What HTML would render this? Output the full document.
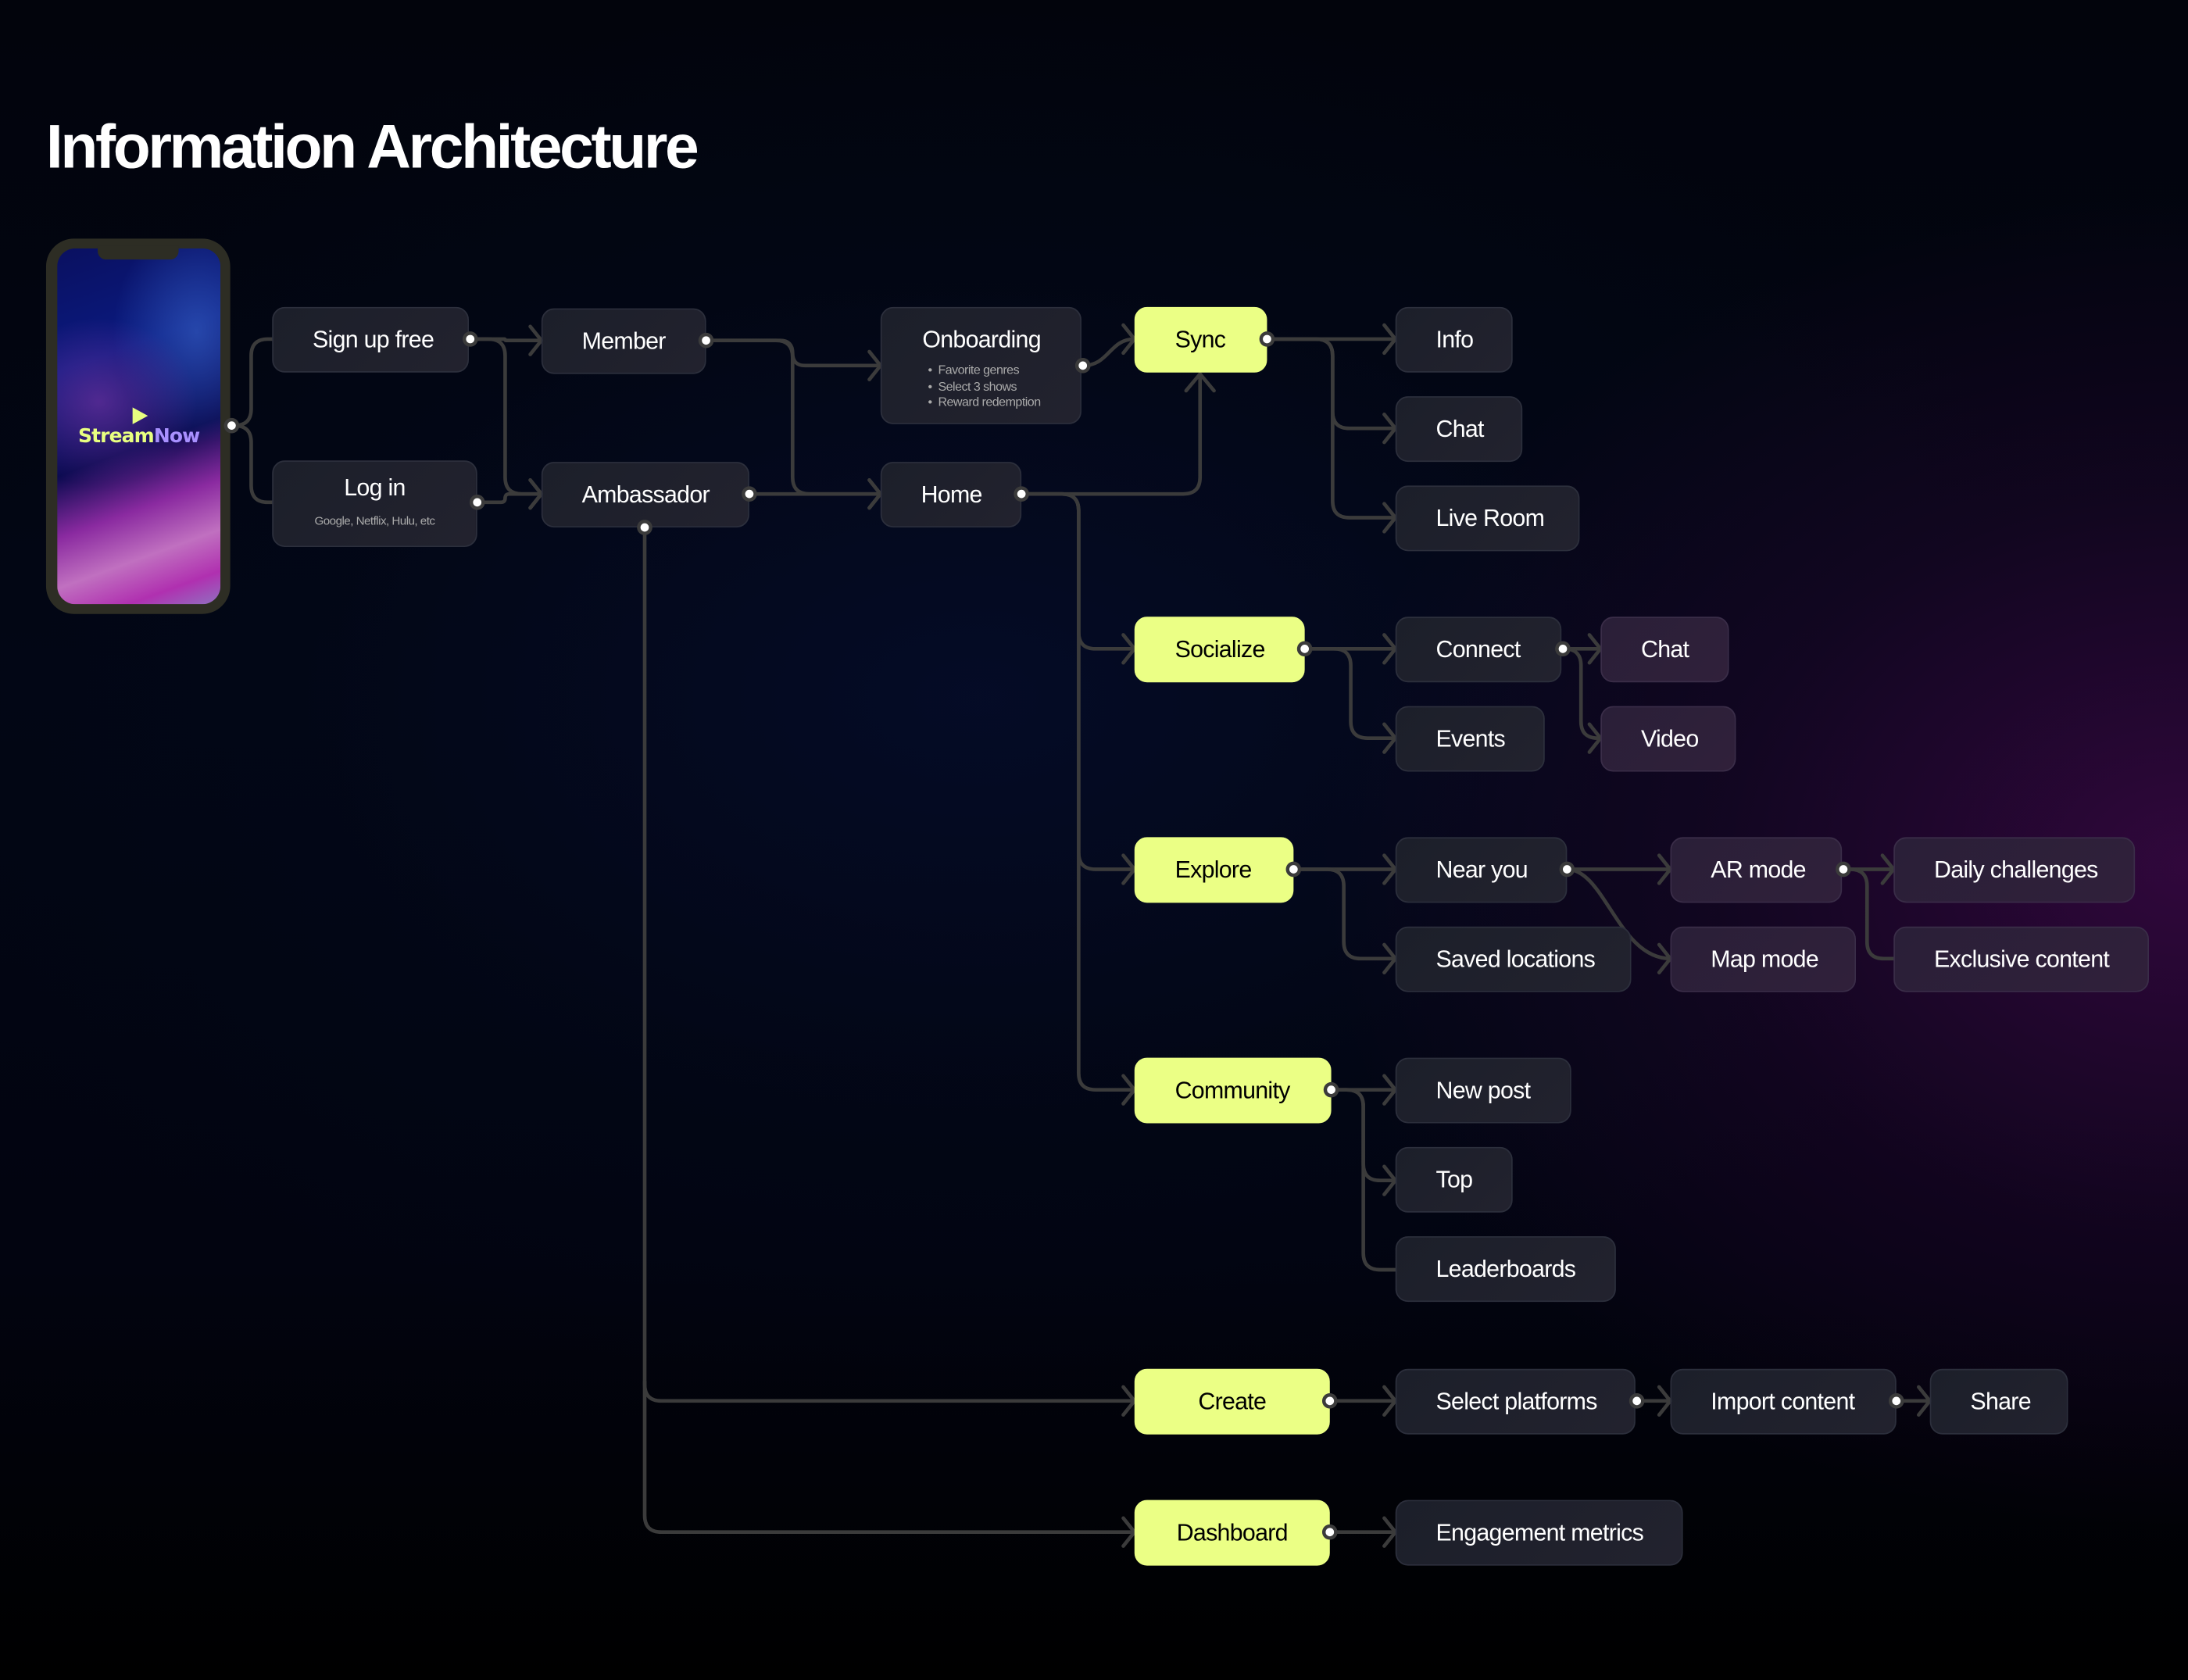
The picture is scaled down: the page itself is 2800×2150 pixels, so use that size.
<!DOCTYPE html>
<html><head><meta charset="utf-8">
<style>
html,body{margin:0;padding:0;background:#000;}
body{width:2800px;height:2150px;overflow:hidden;position:relative;}
#w{position:absolute;left:0;top:0;width:1568px;height:1204px;transform:scale(1.785714);transform-origin:0 0;
background:
radial-gradient(ellipse 620px 480px at 1568px 620px, rgba(60,8,70,0.8), rgba(40,5,50,0.4) 55%, rgba(0,0,0,0) 100%),
radial-gradient(ellipse 800px 500px at 700px 500px, rgba(5,12,40,0.9), rgba(3,8,25,0.5) 60%, rgba(0,0,0,0) 100%),
linear-gradient(180deg,#02040c 0%,#020614 40%,#020410 75%,#000 100%);
font-family:"Liberation Sans",sans-serif;}
h1{position:absolute;left:33px;top:81px;margin:0;font-size:44px;font-weight:bold;color:#fff;letter-spacing:-1.9px;}
.n{position:absolute;box-sizing:border-box;border-radius:9px;background:linear-gradient(135deg,#1c1f2a,#22222e);border:1px solid #2c2f3c;color:#fff;font-size:17px;letter-spacing:-0.4px;display:flex;align-items:center;padding-left:28px;white-space:nowrap;}
.p{background:linear-gradient(135deg,#2a1f38,#30203a);border-color:#3a2d48;}
.y{background:#ebff85;border-color:#ebff85;color:#000;}
.c{justify-content:center;padding-left:0;}
svg{position:absolute;left:0;top:0;}
</style></head><body><div id="w">
<h1>Information Architecture</h1>
<div style="position:absolute;left:33px;top:171px;width:132px;height:269px;border-radius:20px;background:#2d2d24;"></div>
<div style="position:absolute;left:41px;top:178px;width:117px;height:255px;border-radius:13px;overflow:hidden;
background:
radial-gradient(ellipse 70px 60px at 30px 110px, rgba(110,50,160,0.7), rgba(0,0,0,0)),
radial-gradient(ellipse 60px 80px at 100px 60px, rgba(50,90,190,0.7), rgba(0,0,0,0)),
linear-gradient(160deg,#0a1060 0%,#0a1a80 30%,#0a0a50 55%,#8a2aa0 70%,#c070c0 82%,#b030b0 92%,#9070c0 100%);"></div>
<div style="position:absolute;left:70px;top:176px;width:58px;height:10px;border-radius:0 0 6px 6px;background:#2d2d24;"></div>
<div style="position:absolute;left:95px;top:292px;width:0;height:0;border-left:11px solid #e8ff80;border-top:6px solid transparent;border-bottom:6px solid transparent;"></div>
<div style="position:absolute;left:41px;top:305px;width:117px;text-align:center;font-size:14px;font-weight:bold;font-family:'DejaVu Sans',sans-serif;letter-spacing:-0.5px;color:#e8ff80;">Stream<span style="color:#a890ff">Now</span></div>

<svg width="1568" height="1204" viewBox="0 0 1568 1204" id="s"></svg>

<div class="n" style="left:195px;top:220px;width:141px;height:47px;">Sign up free</div>
<div class="n c" style="left:195px;top:330px;width:147px;height:62px;flex-direction:column;"><div style="margin-top:-4px">Log in</div><div style="font-size:8.5px;color:#aaa;margin-top:8px;letter-spacing:-0.3px">Google, Netflix, Hulu, etc</div></div>
<div class="n" style="left:388px;top:221px;width:118px;height:47px;">Member</div>
<div class="n" style="left:388px;top:331px;width:149px;height:47px;">Ambassador</div>
<div class="n" style="left:631px;top:220px;width:144px;height:84px;display:block;padding-left:29px;padding-top:13px;">Onboarding
<div style="font-size:9px;color:#aaa;line-height:11.5px;margin-top:6px;padding-left:4px;letter-spacing:-0.3px">•&nbsp; Favorite genres<br>•&nbsp; Select 3 shows<br>•&nbsp; Reward redemption</div></div>
<div class="n" style="left:631px;top:331px;width:101px;height:47px;">Home</div>
<div class="n y" style="left:813px;top:220px;width:95px;height:47px;">Sync</div>
<div class="n" style="left:1000px;top:220px;width:84px;height:47px;">Info</div>
<div class="n" style="left:1000px;top:284px;width:91px;height:47px;">Chat</div>
<div class="n" style="left:1000px;top:348px;width:132px;height:47px;">Live Room</div>
<div class="n y" style="left:813px;top:442px;width:122px;height:47px;">Socialize</div>
<div class="n" style="left:1000px;top:442px;width:119px;height:47px;">Connect</div>
<div class="n" style="left:1000px;top:506px;width:107px;height:47px;">Events</div>
<div class="n p" style="left:1147px;top:442px;width:92px;height:47px;">Chat</div>
<div class="n p" style="left:1147px;top:506px;width:97px;height:47px;">Video</div>
<div class="n y" style="left:813px;top:600px;width:114px;height:47px;">Explore</div>
<div class="n" style="left:1000px;top:600px;width:123px;height:47px;">Near you</div>
<div class="n" style="left:1000px;top:664px;width:169px;height:47px;">Saved locations</div>
<div class="n p" style="left:1197px;top:600px;width:123px;height:47px;">AR mode</div>
<div class="n p" style="left:1197px;top:664px;width:133px;height:47px;">Map mode</div>
<div class="n p" style="left:1357px;top:600px;width:173px;height:47px;">Daily challenges</div>
<div class="n p" style="left:1357px;top:664px;width:183px;height:47px;">Exclusive content</div>
<div class="n y" style="left:813px;top:758px;width:141px;height:47px;">Community</div>
<div class="n" style="left:1000px;top:758px;width:126px;height:47px;">New post</div>
<div class="n" style="left:1000px;top:822px;width:84px;height:47px;">Top</div>
<div class="n" style="left:1000px;top:886px;width:158px;height:47px;">Leaderboards</div>
<div class="n y c" style="left:813px;top:981px;width:140px;height:47px;">Create</div>
<div class="n" style="left:1000px;top:981px;width:172px;height:47px;">Select platforms</div>
<div class="n" style="left:1197px;top:981px;width:162px;height:47px;">Import content</div>
<div class="n" style="left:1383px;top:981px;width:99px;height:47px;">Share</div>
<div class="n y c" style="left:813px;top:1075px;width:140px;height:47px;">Dashboard</div>
<div class="n" style="left:1000px;top:1075px;width:206px;height:47px;">Engagement metrics</div>
<svg width="1568" height="1204" viewBox="0 0 1568 1204" id="d"></svg>
</div>
<script>
var s=document.getElementById('s'),d=document.getElementById('d'),NS='http://www.w3.org/2000/svg';
function add(el,tag,a){var e=document.createElementNS(NS,tag);for(var k in a)e.setAttribute(k,a[k]);el.appendChild(e);}
var st={fill:'none',stroke:'#3b3b3b','stroke-width':2.6,'stroke-linecap':'round','stroke-linejoin':'round'};
function P(dd){var a=Object.assign({},st);a.d=dd;add(s,'path',a);}
function arrow(x,y){P('M'+(x-8)+','+(y-10)+' L'+x+','+y+' L'+(x-8)+','+(y+10));}
function el(x1,y1,x2,y2,bx,ar){var r=12,dd;
 if(Math.abs(y1-y2)<1){dd='M'+x1+','+y1+' H'+x2;}
 else{var sg=y2>y1?1:-1;var rr=Math.min(r,Math.abs(y2-y1)/2);
 dd='M'+x1+','+y1+' H'+(bx-rr)+' Q'+bx+','+y1+' '+bx+','+(y1+sg*rr)+' V'+(y2-sg*rr)+' Q'+bx+','+y2+' '+(bx+rr)+','+y2+' H'+x2;}
 P(dd); if(ar!==false)arrow(x2,y2);}
function dot(x,y){add(d,'circle',{cx:x,cy:y,r:5.5,fill:'#3b3b3b'});add(d,'circle',{cx:x,cy:y,r:3,fill:'#fff'});}
el(166,305,195,243,180,false);el(166,305,195,360,180,false);dot(166,305);
el(337,243,388,244,362);el(337,243,388,354,362);dot(337,243);
el(342,360,388,354,362);dot(342,360);
el(506,244,631,262,568);el(506,244,631,354,568);dot(506,244);
el(537,354,631,354,580);dot(537,354);
P('M462,378 V992 Q462,1004 474,1004 H813');arrow(813,1004);
P('M462,990 V1086 Q462,1098 474,1098 H813');arrow(813,1098);dot(462,378);
P('M776,262 C795,262 795,243 813,243');arrow(813,243);dot(776,262);
P('M732,354 H848 Q860,354 860,342 V268');P('M850,280 L860,268 L870,280');dot(732,354);
el(732,354,813,465,773);el(732,354,813,623,773);el(732,354,813,781,773);
el(908,243,1000,243,955);el(908,243,1000,307,955);el(908,243,1000,371,955);dot(908,243);
el(935,465,1000,465,968);el(935,465,1000,529,968);dot(935,465);
el(1120,465,1147,465,1133);el(1120,465,1147,529,1133);dot(1120,465);
el(927,623,1000,623,963);el(927,623,1000,687,963);dot(927,623);
el(1123,623,1197,623,1160);P('M1123,623 C1150,623 1160,687 1197,687');arrow(1197,687);dot(1123,623);
el(1321,623,1357,623,1338);el(1321,623,1357,687,1338,false);dot(1321,623);
el(954,781,1000,781,977);el(954,781,1000,846,977);el(954,781,1000,910,977,false);dot(954,781);
el(953,1004,1000,1004,975);dot(953,1004);
el(1173,1004,1197,1004,1185);dot(1173,1004);
el(1359,1004,1383,1004,1370);dot(1359,1004);
el(953,1098,1000,1098,975);dot(953,1098);
</script>
</body></html>
